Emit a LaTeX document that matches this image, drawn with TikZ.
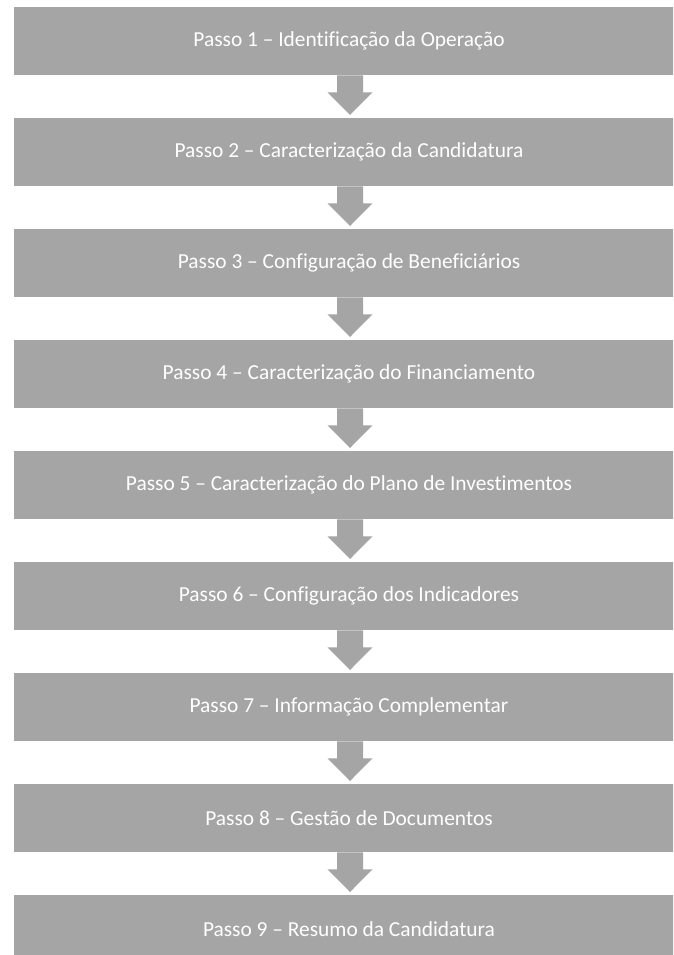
\documentclass[tikz,border=0pt]{standalone}
\usepackage{fontspec}
\setmainfont[Ligatures={NoCommon}]{Carlito}
\definecolor{boxgray}{HTML}{A5A5A5}
\tikzset{
  stepbox/.style={fill=boxgray, draw=none, minimum width=670pt, minimum height=68pt, inner sep=0pt, anchor=north west},
  steptext/.style={text=white, font=\fontsize{21.4}{25}\selectfont, anchor=center},
  downarrow/.style={fill=boxgray, draw=none}
}
\begin{document}
\begin{tikzpicture}[x=1pt,y=1pt]
\useasboundingbox (0,0) rectangle (673,-955);
\clip (0,0) rectangle (673,-955);
\foreach \i/\t in {1/{Passo 1 – Identificação da Operação},
                   2/{Passo 2 – Caracterização da Candidatura},
                   3/{Passo 3 – Configuração de Beneficiários},
                   4/{Passo 4 – Caracterização do Financiamento},
                   5/{Passo 5 – Caracterização do Plano de Investimentos},
                   6/{Passo 6 – Configuração dos Indicadores},
                   7/{Passo 7 – Informação Complementar},
                   8/{Passo 8 – Gestão de Documentos},
                   9/{Passo 9 – Resumo da Candidatura}} {
  \pgfmathsetmacro{\top}{-7-(\i-1)*111}
  \node[stepbox] (b\i) at (14,\top) {};
  \node[steptext] (t\i) at (349,\top-34) {\t};
}
\foreach \i in {1,...,8} {
  \pgfmathtruncatemacro{\j}{\i+1}
  \coordinate (s\i) at (b\i.south -| 350,0);
  \coordinate (e\i) at (b\j.north -| 350,0);
  \fill[downarrow] ([xshift=-13pt]s\i) -- ([xshift=13pt]s\i) -- ([xshift=13pt,yshift=-17pt]s\i)
     -- ([xshift=22.5pt,yshift=-17pt]s\i) -- ([yshift=3pt]e\i) -- ([xshift=-22.5pt,yshift=-17pt]s\i)
     -- ([xshift=-13pt,yshift=-17pt]s\i) -- cycle;
}
\end{tikzpicture}
\end{document}
